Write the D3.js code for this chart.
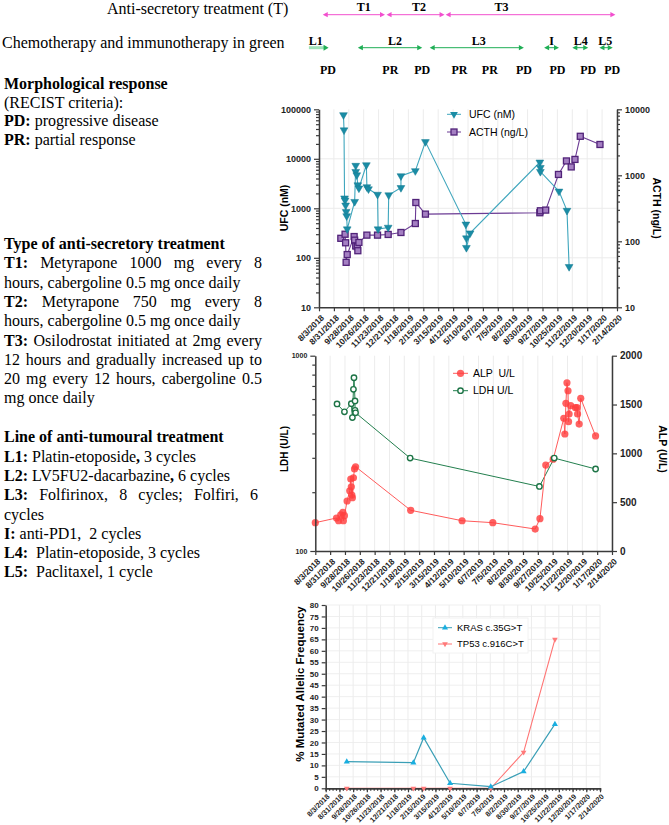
<!DOCTYPE html>
<html><head><meta charset="utf-8">
<script src="https://cdn.jsdelivr.net/npm/d3@7"></script>
<style>body{margin:0;background:#fff}svg{display:block}</style>
</head><body>
<svg id="c" width="669" height="825" xmlns="http://www.w3.org/2000/svg"></svg>
<script>
// ---------------- DATA ----------------
const xTickLabels = ["8/3/2018","8/31/2018","9/28/2018","10/26/2018","11/23/2018","12/21/2018","1/18/2019","2/15/2019","3/15/2019","4/12/2019","5/10/2019","6/7/2019","7/5/2019","8/2/2019","8/30/2019","9/27/2019","10/25/2019","11/22/2019","12/20/2019","1/17/2020","2/14/2020"];

const ufcDates = ["9/18/2018","9/19/2018","9/20/2018","9/21/2018","9/22/2018","9/23/2018","9/24/2018","9/25/2018","10/9/2018","10/11/2018","10/11/2018","10/13/2018","10/15/2018","10/17/2018","10/31/2018","11/1/2018","11/4/2018","11/21/2018","11/22/2018","12/11/2018","12/12/2018","1/4/2019","1/4/2019","1/31/2019","2/19/2019","5/6/2019","5/7/2019","5/7/2019","5/14/2019","9/22/2019","9/23/2019","9/23/2019","10/28/2019","11/12/2019","11/16/2019"];
const ufcValues = [77000,38000,1600,1450,1150,850,700,380,1360,7300,5500,4700,2950,2550,7500,2700,2450,1900,380,410,1850,2600,4500,5700,22000,475,250,160,315,8500,6600,5500,2200,900,66];

const acthDates = ["9/13/2018","9/21/2018","9/22/2018","9/23/2018","9/25/2018","10/8/2018","10/9/2018","10/11/2018","10/14/2018","10/15/2018","10/17/2018","11/1/2018","11/21/2018","12/11/2018","1/4/2019","1/31/2019","2/1/2019","2/19/2019","9/22/2019","9/23/2019","10/3/2019","10/27/2019","11/11/2019","11/20/2019","11/27/2019","12/7/2019","1/13/2020"];
const acthValues = [111,128,95,48,63,118,104,85,83,72,96,124,124,127,136,186,387,258,271,290,297,1030,1650,1340,1740,3900,2930];

const ldhDates = ["9/13/2018","9/27/2018","10/10/2018","10/12/2018","10/14/2018","10/15/2018","10/17/2018","10/17/2018","10/18/2018","1/29/2019","9/30/2019","10/28/2019","1/14/2020"];
const ldhValues = [566,516,568,482,673,771,587,525,510,299,214,299,263];

const alpDates = ["8/3/2018","9/12/2018","9/16/2018","9/20/2018","9/24/2018","9/25/2018","9/27/2018","10/2/2018","10/7/2018","10/9/2018","10/10/2018","10/11/2018","10/12/2018","10/14/2018","10/16/2018","10/18/2018","1/30/2019","5/7/2019","7/4/2019","9/22/2019","10/1/2019","10/12/2019","10/26/2019","11/15/2019","11/17/2019","11/19/2019","11/21/2019","11/23/2019","11/24/2019","11/25/2019","11/28/2019","12/7/2019","12/10/2019","12/11/2019","12/14/2019","12/17/2019","1/14/2020"];
const alpValues = [290,338,310,369,396,310,362,512,617,737,658,573,546,750,840,863,417,310,290,225,331,880,940,1359,1198,1512,1723,1641,1324,1403,1488,1468,1468,1403,1300,1563,1178];

const mutDates = ["9/15/2018","1/29/2019","2/19/2019","4/14/2019","7/6/2019","9/11/2019","11/14/2019"];
const krasValues = [11.6,11.2,22.1,2.2,0.7,7.3,28];
const tp53Values = [0,0,0,0,0,15.7,65];

const ufcTicks = [10,100,1000,10000,100000];
const acthTicks = [10,100,1000,10000];
const ldhTicks = [100,1000];
const alpTicks = [0,500,1000,1500,2000];
const mutTicks = d3.range(0,81,5);

// timeline annotations (dates on the chart time axis)
const treatmentLabels = ["T1","T2","T3"];
const treatmentStarts = ["8/10/2018","12/8/2018","3/29/2019"];
const treatmentEnds = ["12/5/2018","3/27/2019","2/11/2020"];
const treatmentLabelDates = ["10/26/2018","2/7/2019","7/12/2019"];
const lineLabels = ["L1","L2","L3","I","L4","L5"];
const lineStarts = ["7/15/2018","10/15/2018","2/27/2019","9/30/2019","11/22/2019","1/12/2020"];
const lineEnds = ["8/21/2018","2/13/2019","8/23/2019","10/28/2019","12/22/2019","2/6/2020"];
const lineLabelDates = ["7/28/2018","12/24/2018","5/30/2019","10/14/2019","12/8/2019","1/23/2020"];
const responseLabels = ["PD","PR","PD","PR","PR","PD","PD","PD","PD"];
const responseDates = ["8/20/2018","12/15/2018","2/13/2019","4/24/2019","6/20/2019","8/23/2019","10/25/2019","12/22/2019","2/5/2020"];

// ---------------- SETUP ----------------
const parse = d3.timeParse("%m/%d/%Y");
const svg = d3.select("#c");
const SANS = "'Liberation Sans', Arial, Helvetica, sans-serif";
const SERIF = "'Liberation Serif', 'Times New Roman', Times, serif";
const tickDates = xTickLabels.map(parse);
const dom = [parse(xTickLabels[0]), parse(xTickLabels[xTickLabels.length-1])];
const AX = "#3b3b3b", GRID = "#ececec";

svg.append("rect").attr("width",669).attr("height",825).attr("fill","#fff");

function styleAxis(g, fs){
  g.attr("font-family", SANS).attr("font-size", fs);
  g.select(".domain").attr("stroke", AX).attr("stroke-width", 1.5);
  g.selectAll(".tick line").attr("stroke", AX).attr("stroke-width", 1.2);
  g.selectAll(".tick text").attr("font-weight","bold").attr("fill","#1e1e1e");
}
function xAxisRot(x, y0, fs, dx, dy){
  const g = svg.append("g").attr("transform",`translate(0,${y0})`)
    .call(d3.axisBottom(x).tickValues(tickDates).tickSize(4).tickSizeOuter(0).tickFormat((d,i)=>xTickLabels[i]));
  styleAxis(g, fs);
  g.selectAll(".tick text").attr("text-anchor","end").attr("x",0).attr("y",0).attr("dy","0.35em")
    .attr("transform",`translate(${dx},${dy}) rotate(-45)`);
  return g;
}
function vGrid(x, y0, y1){
  svg.append("g").selectAll("line").data(tickDates).join("line")
    .attr("x1",d=>x(d)).attr("x2",d=>x(d)).attr("y1",y0).attr("y2",y1)
    .attr("stroke",GRID).attr("stroke-width",1);
}
function minorLog(ticks){
  const out=[];
  for(let i=0;i<ticks.length-1;i++) for(let k=2;k<=9;k++) out.push(ticks[i]*k);
  return out;
}
const tri = d3.symbol().type(d3.symbolTriangle);

// ---------------- TOP TIMELINE ----------------
const xT = d3.scaleTime().domain(dom).range([319,617]);
svg.append("text").attr("x",107).attr("y",14).attr("font-family",SERIF).attr("font-size",16)
  .text("Anti-secretory treatment (T)");
svg.append("text").attr("x",2).attr("y",48).attr("font-family",SERIF).attr("font-size",16)
  .text("Chemotherapy and immunotherapy in green");

function arrowHead(x, y, dir, color, len, hw){
  svg.append("path").attr("d",`M${x},${y} L${x-dir*len},${y-hw} L${x-dir*len},${y+hw} Z`).attr("fill",color);
}
const MAG = "#f24fce", GRN = "#1fae55";
treatmentLabels.forEach((lab,i)=>{
  const a = xT(parse(treatmentStarts[i])), b = xT(parse(treatmentEnds[i])), y = 14.7;
  svg.append("line").attr("x1",a+2).attr("x2",b-2).attr("y1",y).attr("y2",y).attr("stroke",MAG).attr("stroke-width",1);
  arrowHead(a,y,-1,MAG,5,2.6); arrowHead(b,y,1,MAG,5,2.6);
  svg.append("text").attr("x",xT(parse(treatmentLabelDates[i]))).attr("y",11).attr("text-anchor","middle").attr("font-family",SERIF)
    .attr("font-weight","bold").attr("font-size",12).text(lab);
});
lineLabels.forEach((lab,i)=>{
  const a = xT(parse(lineStarts[i])), b = xT(parse(lineEnds[i])), y = 47.7;
  if(i===0){
    svg.append("line").attr("x1",a).attr("x2",b-3).attr("y1",y).attr("y2",y).attr("stroke","#9fe3b9").attr("stroke-width",3);
    arrowHead(b,y,1,GRN,5,3);
  } else {
    svg.append("line").attr("x1",a+2).attr("x2",b-2).attr("y1",y).attr("y2",y).attr("stroke",GRN).attr("stroke-width",1);
    arrowHead(a,y,-1,GRN,5,2.6); arrowHead(b,y,1,GRN,5,2.6);
  }
  svg.append("text").attr("x",xT(parse(lineLabelDates[i]))).attr("y",44.5).attr("text-anchor","middle").attr("font-family",SERIF)
    .attr("font-weight","bold").attr("font-size",12).text(lab);
});
responseLabels.forEach((lab,i)=>{
  svg.append("text").attr("x",xT(parse(responseDates[i]))).attr("y",73.5).attr("text-anchor","middle")
    .attr("font-family",SERIF).attr("font-weight","bold").attr("font-size",12).text(lab);
});

// ---------------- LEFT TEXT ----------------
function parseWords(s){
  const words=[]; let bold=false, cur=[], buf="";
  for(let i=0;i<s.length;i++){
    if(s.startsWith("**",i)){ if(buf){cur.push({t:buf,b:bold});buf="";} bold=!bold; i++; continue; }
    const ch=s[i];
    if(ch===" "){ if(buf){cur.push({t:buf,b:bold});buf="";} if(cur.length){words.push(cur);cur=[];} continue; }
    buf+=ch;
  }
  if(buf) cur.push({t:buf,b:bold}); if(cur.length) words.push(cur);
  return words;
}
function textLine(s, x, y, right){
  const words = parseWords(s);
  const mk = (wx, w)=>{
    const t = svg.append("text").attr("x",wx).attr("y",y).attr("font-family",SERIF).attr("font-size",16).attr("fill","#000");
    w.forEach(seg=>t.append("tspan").attr("font-weight",seg.b?"bold":"normal").text(seg.t));
    return t;
  };
  if(right){
    const els = words.map(w=>mk(x,w));
    const ws = els.map(e=>e.node().getComputedTextLength());
    const tot = d3.sum(ws);
    const gap = (right - x - tot)/(words.length-1);
    let cx = x;
    els.forEach((e,i)=>{ e.attr("x",cx); cx += ws[i]+gap; });
  } else {
    const t = svg.append("text").attr("x",x).attr("y",y).attr("font-family",SERIF).attr("font-size",16).attr("fill","#000")
      .style("white-space","pre");
    let bold=false;
    s.split("**").forEach((p,i)=>{ if(i>0) bold=!bold; if(p) t.append("tspan").attr("font-weight",bold?"bold":"normal").text(p); });
  }
}
const block1 = ["**Morphological response**","(RECIST criteria):","**PD:** progressive disease","**PR:** partial response"];
block1.forEach((s,i)=>textLine(s,4,89+i*18.7));
const block2 = [
  ["**Type of anti-secretory treatment**",0],
  ["**T1:** Metyrapone 1000 mg every 8",262],
  ["hours, cabergoline 0.5 mg once daily",0],
  ["**T2:** Metyrapone 750 mg every 8",262],
  ["hours, cabergoline 0.5 mg once daily",0],
  ["**T3:** Osilodrostat initiated at 2mg every",262],
  ["12 hours and gradually increased up to",262],
  ["20 mg every 12 hours, cabergoline 0.5",262],
  ["mg once daily",0]];
block2.forEach((s,i)=>textLine(s[0],4,249+i*19.3,s[1]||null));
const block3 = [
  ["**Line of anti-tumoural treatment**",0],
  ["**L1:** Platin-etoposide**,** 3 cycles",0],
  ["**L2:** LV5FU2-dacarbazine**,** 6 cycles",0],
  ["**L3:** Folfirinox, 8 cycles; Folfiri, 6",258],
  ["cycles",0],
  ["**I:** anti-PD1,  2 cycles",0],
  ["**L4:**  Platin-etoposide, 3 cycles",0],
  ["**L5:**  Paclitaxel, 1 cycle",0]];
block3.forEach((s,i)=>textLine(s[0],4,442.3+i*19.3,s[1]||null));

// ---------------- CHART 1: UFC / ACTH ----------------
{
  const x = d3.scaleTime().domain(dom).range([319,617]);
  const yL = d3.scaleLog().domain([10,100000]).range([307.3,109.3]);
  const yR = d3.scaleLog().domain([10,10000]).range([307.3,109.3]);
  vGrid(x,109.3,307.3);
  svg.append("g").selectAll("line").data(ufcTicks.slice(1,-1)).join("line")
    .attr("x1",319).attr("x2",617).attr("y1",d=>yL(d)).attr("y2",d=>yL(d)).attr("stroke",GRID);
  const acth = acthDates.map((d,i)=>({d:parse(d),v:acthValues[i]}));
  svg.append("path").datum(acth).attr("fill","none").attr("stroke","#6b3b94").attr("stroke-width",1.1)
    .attr("d",d3.line().x(d=>x(d.d)).y(d=>yR(d.v)));
  svg.append("g").selectAll("rect").data(acth).join("rect")
    .attr("x",d=>x(d.d)-3).attr("y",d=>yR(d.v)-3).attr("width",6).attr("height",6)
    .attr("fill","#a47fc2").attr("stroke","#512379").attr("stroke-width",1.3);
  const ufc = ufcDates.map((d,i)=>({d:parse(d),v:ufcValues[i]}));
  svg.append("path").datum(ufc).attr("fill","none").attr("stroke","#3fa6bd").attr("stroke-width",1.1)
    .attr("d",d3.line().x(d=>x(d.d)).y(d=>yL(d.v)));
  svg.append("g").selectAll("path").data(ufc).join("path")
    .attr("d",tri.size(26)()).attr("transform",d=>`translate(${x(d.d)},${yL(d.v)}) rotate(180)`)
    .attr("fill","#1a8ca5").attr("stroke","#157a90").attr("stroke-width",0.5);
  const gl = svg.append("g").attr("transform","translate(319,0)")
    .call(d3.axisLeft(yL).tickValues(ufcTicks).tickSize(5).tickSizeOuter(0).tickFormat(d3.format("d")));
  styleAxis(gl,9);
  const glm = svg.append("g").attr("transform","translate(319,0)")
    .call(d3.axisLeft(yL).tickValues(minorLog(ufcTicks)).tickSize(3).tickFormat(""));
  styleAxis(glm,9); glm.select(".domain").remove();
  const gr = svg.append("g").attr("transform","translate(617,0)")
    .call(d3.axisRight(yR).tickValues(acthTicks).tickSize(5).tickSizeOuter(0).tickFormat(d3.format("d")));
  styleAxis(gr,9);
  const grm = svg.append("g").attr("transform","translate(617,0)")
    .call(d3.axisRight(yR).tickValues(minorLog(acthTicks)).tickSize(3).tickFormat(""));
  styleAxis(grm,9); grm.select(".domain").remove();
  xAxisRot(x,307.3,8.5,3,9);
  svg.append("text").attr("transform","translate(288,208) rotate(-90)").attr("text-anchor","middle")
    .attr("font-family",SANS).attr("font-weight","bold").attr("font-size",10.5).text("UFC (nM)");
  svg.append("text").attr("transform","translate(653,208) rotate(90)").attr("text-anchor","middle")
    .attr("font-family",SANS).attr("font-weight","bold").attr("font-size",10.5).text("ACTH (ng/L)");
  const lg = svg.append("g").attr("font-family",SANS).attr("font-size",10.5);
  lg.append("line").attr("x1",447).attr("x2",461).attr("y1",114.3).attr("y2",114.3).attr("stroke","#3fa6bd");
  lg.append("path").attr("d",tri.size(26)()).attr("transform","translate(454,114.3) rotate(180)").attr("fill","#1a8ca5");
  lg.append("text").attr("x",469).attr("y",118).text("UFC (nM)");
  lg.append("line").attr("x1",447).attr("x2",461).attr("y1",132).attr("y2",132).attr("stroke","#6b3b94");
  lg.append("rect").attr("x",451).attr("y",129).attr("width",6).attr("height",6).attr("fill","#a47fc2").attr("stroke","#512379").attr("stroke-width",1.3);
  lg.append("text").attr("x",469).attr("y",135.7).text("ACTH (ng/L)");
}

// ---------------- CHART 2: LDH / ALP ----------------
{
  const x = d3.scaleTime().domain(dom).range([315.3,612]);
  const yL = d3.scaleLog().domain([100,1000]).range([551,355.7]);
  const yR = d3.scaleLinear().domain([0,2000]).range([551,355.7]);
  vGrid(x,355.7,551);
  const ldh = ldhDates.map((d,i)=>({d:parse(d),v:ldhValues[i]}));
  const alp = alpDates.map((d,i)=>({d:parse(d),v:alpValues[i]}));
  svg.append("path").datum(ldh).attr("fill","none").attr("stroke","#237f4e").attr("stroke-width",1)
    .attr("d",d3.line().x(d=>x(d.d)).y(d=>yL(d.v)));
  svg.append("path").datum(alp).attr("fill","none").attr("stroke","#ff5b5b").attr("stroke-width",1)
    .attr("d",d3.line().x(d=>x(d.d)).y(d=>yR(d.v)));
  svg.append("g").selectAll("circle").data(alp).join("circle")
    .attr("cx",d=>x(d.d)).attr("cy",d=>yR(d.v)).attr("r",3.6).attr("fill","#ff4040").attr("fill-opacity",0.82);
  svg.append("g").selectAll("circle").data(ldh).join("circle")
    .attr("cx",d=>x(d.d)).attr("cy",d=>yL(d.v)).attr("r",2.7).attr("fill","#fff").attr("stroke","#1d7446").attr("stroke-width",1.4);
  const gl = svg.append("g").attr("transform","translate(315.3,0)")
    .call(d3.axisLeft(yL).tickValues(ldhTicks).tickSize(5).tickSizeOuter(0).tickFormat(d3.format("d")));
  styleAxis(gl,7);
  const glm = svg.append("g").attr("transform","translate(315.3,0)")
    .call(d3.axisLeft(yL).tickValues(minorLog(ldhTicks)).tickSize(3).tickFormat(""));
  styleAxis(glm,7); glm.select(".domain").remove();
  const gr = svg.append("g").attr("transform","translate(612,0)")
    .call(d3.axisRight(yR).tickValues(alpTicks).tickSize(5).tickSizeOuter(0).tickFormat(d3.format("d")));
  styleAxis(gr,10);
  xAxisRot(x,551,8.5,3,9);
  svg.append("text").attr("transform","translate(288,449) rotate(-90)").attr("text-anchor","middle")
    .attr("font-family",SANS).attr("font-weight","bold").attr("font-size",10).text("LDH (U/L)");
  svg.append("text").attr("transform","translate(659,449) rotate(90)").attr("text-anchor","middle")
    .attr("font-family",SANS).attr("font-weight","bold").attr("font-size",10.5).text("ALP (U/L)");
  const lg = svg.append("g").attr("font-family",SANS).attr("font-size",10.5);
  lg.append("line").attr("x1",453).attr("x2",468).attr("y1",373.3).attr("y2",373.3).attr("stroke","#ff5b5b");
  lg.append("circle").attr("cx",460.5).attr("cy",373.3).attr("r",3.6).attr("fill","#ff4040").attr("fill-opacity",0.82);
  lg.append("text").attr("x",473).attr("y",377).style("white-space","pre").text("ALP  U/L");
  lg.append("line").attr("x1",453).attr("x2",468).attr("y1",390.7).attr("y2",390.7).attr("stroke","#237f4e");
  lg.append("circle").attr("cx",460.5).attr("cy",390.7).attr("r",2.7).attr("fill","#fff").attr("stroke","#1d7446").attr("stroke-width",1.4);
  lg.append("text").attr("x",473).attr("y",394.4).text("LDH U/L");
}

// ---------------- CHART 3: Mutated allelic frequency ----------------
{
  const x = d3.scaleTime().domain(dom).range([325.7,600]);
  const y = d3.scaleLinear().domain([0,80]).range([788.3,605]);
  svg.append("g").selectAll("line").data(mutTicks.slice(1)).join("line")
    .attr("x1",325.7).attr("x2",600).attr("y1",d=>y(d)).attr("y2",d=>y(d)).attr("stroke","#efefef");
  vGrid(x,605,788.3);
  const kras = mutDates.map((d,i)=>({d:parse(d),v:krasValues[i]}));
  const tp53 = mutDates.map((d,i)=>({d:parse(d),v:tp53Values[i]}));
  svg.append("path").datum(tp53).attr("fill","none").attr("stroke","#ff7373").attr("stroke-width",1.1)
    .attr("d",d3.line().x(d=>x(d.d)).y(d=>y(d.v)));
  svg.append("path").datum(kras).attr("fill","none").attr("stroke","#3a9fb6").attr("stroke-width",1.2)
    .attr("d",d3.line().x(d=>x(d.d)).y(d=>y(d.v)));
  const gy = svg.append("g").attr("transform","translate(325.7,0)")
    .call(d3.axisLeft(y).tickValues(mutTicks).tickSize(4).tickSizeOuter(0));
  styleAxis(gy,8);
  const minorDates = d3.range(0,81).map(k=>d3.timeDay.offset(dom[0],k*7)).filter(d=>d<=dom[1]);
  const gxm = svg.append("g").attr("transform","translate(0,788.3)")
    .call(d3.axisBottom(x).tickValues(minorDates).tickSize(2.5).tickFormat(""));
  styleAxis(gxm,8);
  xAxisRot(x,788.3,7.3,2,7);
  svg.append("g").selectAll("path").data(tp53).join("path")
    .attr("d",tri.size(14)()).attr("transform",d=>`translate(${x(d.d)},${y(d.v)}) rotate(180)`)
    .attr("fill","#ff7a7a");
  svg.append("g").selectAll("path").data(kras).join("path")
    .attr("d",tri.size(16)()).attr("transform",d=>`translate(${x(d.d)},${y(d.v)})`)
    .attr("fill","#19aee0");
  svg.append("text").attr("transform","translate(304,684) rotate(-90)").attr("text-anchor","middle")
    .attr("font-family",SANS).attr("font-weight","bold").attr("font-size",11.5).text("% Mutated Allelic Frequency");
  const lg = svg.append("g").attr("font-family",SANS).attr("font-size",9.5);
  lg.append("rect").attr("x",433).attr("y",618).attr("width",95).attr("height",35).attr("fill","#fff").attr("stroke","#f2f2f2");
  lg.append("line").attr("x1",438).attr("x2",452).attr("y1",627.7).attr("y2",627.7).attr("stroke","#3a9fb6");
  lg.append("path").attr("d",tri.size(16)()).attr("transform","translate(445,627.7)").attr("fill","#19aee0");
  lg.append("text").attr("x",457).attr("y",631).text("KRAS c.35G>T");
  lg.append("line").attr("x1",438).attr("x2",452).attr("y1",644).attr("y2",644).attr("stroke","#ff7373");
  lg.append("path").attr("d",tri.size(14)()).attr("transform","translate(445,644) rotate(180)").attr("fill","#ff7a7a");
  lg.append("text").attr("x",457).attr("y",647.3).text("TP53 c.916C>T");
}
</script>
</body></html>
